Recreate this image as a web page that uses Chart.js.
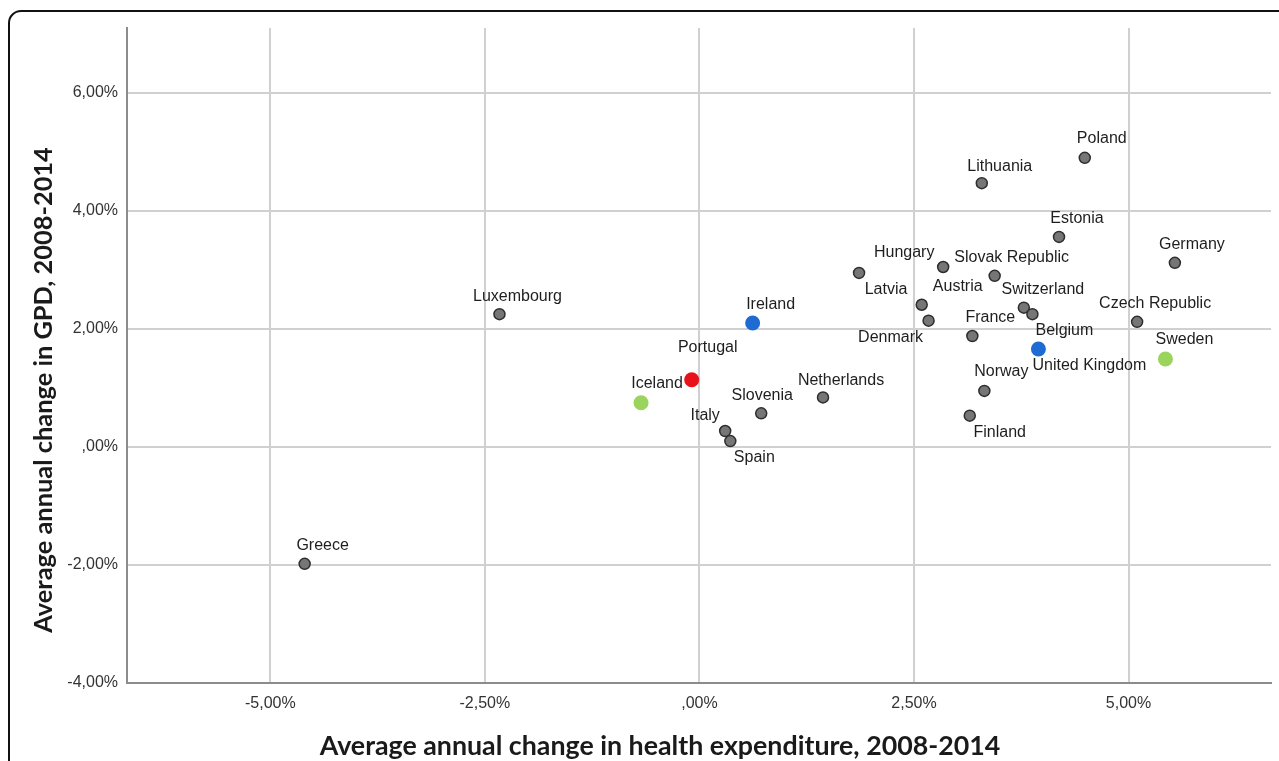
<!DOCTYPE html>
<html>
<head>
<meta charset="utf-8">
<script src="https://cdn.jsdelivr.net/npm/chart.js@4.4.1/dist/chart.umd.min.js"></script>
<style>
  html, body { margin: 0; padding: 0; background: #fff; overflow: hidden; }
  #wrap { position: relative; width: 1279px; height: 761px; overflow: hidden; }
  #frame { position: absolute; left: 8px; top: 10px; width: 1300px; height: 800px;
           border: 2px solid #111; border-radius: 13px; box-sizing: border-box; }
  canvas { position: absolute; left: 0; top: 0; }
</style>
</head>
<body>
<div id="wrap">
  <div id="frame"></div>
  <canvas id="c" width="1279" height="761"></canvas>
</div>
<script>
// ---- data ----
const countries = ['Greece','Luxembourg','Iceland','Portugal','Ireland','Italy','Spain','Slovenia',
  'Netherlands','Latvia','Hungary','Austria','Denmark','Slovak Republic','France','Switzerland',
  'Belgium','United Kingdom','Norway','Finland','Lithuania','Poland','Estonia','Germany',
  'Czech Republic','Sweden'];
const healthChange = [-4.60,-2.33,-0.68,-0.09,0.62,0.30,0.36,0.72,
  1.44,1.86,2.84,2.59,2.67,3.44,3.18,3.78,
  3.88,3.95,3.32,3.15,3.29,4.49,4.19,5.54,
  5.10,5.43];
const gdpChange = [-1.98,2.25,0.75,1.14,2.10,0.27,0.10,0.57,
  0.84,2.95,3.05,2.41,2.14,2.90,1.88,2.36,
  2.25,1.66,0.95,0.53,4.47,4.90,3.56,3.12,
  2.12,1.49];
// group: 0 = other, 1 = blue, 2 = green, 3 = red
const group = [0,0,2,3,1,0,0,0,
  0,0,0,0,0,0,0,0,
  0,1,0,0,0,0,0,0,
  0,2];
const xTickValues = [-5, -2.5, 0, 2.5, 5];
const xTickLabels = ['-5,00%', '-2,50%', ',00%', '2,50%', '5,00%'];
const yTickValues = [-4, -2, 0, 2, 4, 6];
const yTickLabels = ['-4,00%', '-2,00%', ',00%', '2,00%', '4,00%', '6,00%'];
const xTitle = 'Average annual change in health expenditure, 2008-2014';
const yTitle = 'Average annual change in GPD, 2008-2014';

// ---- layout / style (not data) ----
const labelOffsets = [[18,-18],[18,-18],[16,-19],[16,-32],[18,-18],[-20,-15],[24,17],[1,-18],
  [18,-17],[27,17],[-39,-14],[36,-18],[-38,17],[17,-18],[18,-18],[19,-18],
  [32,16],[51,17],[17,-19],[30,17],[18,-17],[17,-19],[18,-18],[17,-18],
  [18,-18],[19,-19]];
const groupStyle = [
  { fill: '#767676', border: '#2e2e2e', r: 5.5, bw: 1.5 },
  { fill: '#1f6bd4', border: '#1f6bd4', r: 7.5, bw: 0 },
  { fill: '#9ad45c', border: '#9ad45c', r: 7.5, bw: 0 },
  { fill: '#e8121a', border: '#e8121a', r: 7.5, bw: 0 }
];

const points = countries.map((c, i) => ({ x: healthChange[i], y: gdpChange[i], label: c }));

const labelPlugin = {
  id: 'pointLabels',
  afterDatasetsDraw(chart) {
    const ctx = chart.ctx;
    const meta = chart.getDatasetMeta(0);
    ctx.save();
    ctx.font = '16px "Liberation Sans", Arial, sans-serif';
    ctx.fillStyle = '#1e1e1e';
    ctx.textAlign = 'center';
    ctx.textBaseline = 'middle';
    meta.data.forEach((el, i) => {
      const off = labelOffsets[i];
      ctx.fillText(countries[i], el.x + off[0], el.y + off[1]);
    });
    ctx.restore();
  }
};

const titlePlugin = {
  id: 'axisTitles',
  afterDraw(chart) {
    const ctx = chart.ctx;
    const ca = chart.chartArea;
    ctx.save();
    ctx.fillStyle = '#1a1a1a';
    ctx.textAlign = 'center';
    ctx.textBaseline = 'middle';
    // x title
    let fs = 22;
    ctx.font = 'bold ' + fs + 'px Lato, "Open Sans", sans-serif';
    let w = ctx.measureText(xTitle).width;
    fs = fs * 681 / w;
    ctx.font = 'bold ' + fs.toFixed(2) + 'px Lato, "Open Sans", sans-serif';
    ctx.fillText(xTitle, ca.left + 533, ca.bottom + 63);
    // y title
    let fy = 22;
    ctx.font = 'bold ' + fy + 'px Lato, "Open Sans", sans-serif';
    w = ctx.measureText(yTitle).width;
    fy = fy * 486 / w;
    ctx.font = 'bold ' + fy.toFixed(2) + 'px Lato, "Open Sans", sans-serif';
    ctx.translate(44, ca.top + 362);
    ctx.rotate(-Math.PI / 2);
    ctx.fillText(yTitle, 0, 0);
    ctx.restore();
  }
};

new Chart(document.getElementById('c'), {
  type: 'scatter',
  data: {
    datasets: [{
      data: points,
      pointRadius: group.map(g => groupStyle[g].r),
      pointBackgroundColor: group.map(g => groupStyle[g].fill),
      pointBorderColor: group.map(g => groupStyle[g].border),
      pointBorderWidth: group.map(g => groupStyle[g].bw)
    }]
  },
  options: {
    responsive: false,
    animation: false,
    events: [],
    layout: { padding: { top: 28, right: 8, left: 0, bottom: 0 } },
    plugins: { legend: { display: false }, tooltip: { enabled: false }, title: { display: false } },
    scales: {
      x: {
        type: 'linear',
        min: -6.67, max: 6.66,
        afterBuildTicks: s => { s.ticks = xTickValues.map(v => ({ value: v })); },
        afterFit: s => { s.height = 78; },
        grid: { color: '#d0d0d0', lineWidth: 2, drawTicks: false },
        border: { color: '#8c8c8c', width: 2 },
        ticks: {
          padding: 11,
          color: '#333',
          font: { family: '"Liberation Sans", Arial, sans-serif', size: 16 },
          callback: (v) => { const i = xTickValues.indexOf(v); return i >= 0 ? xTickLabels[i] : ''; }
        }
      },
      y: {
        type: 'linear',
        min: -4, max: 7.1,
        afterBuildTicks: s => { s.ticks = yTickValues.map(v => ({ value: v })); },
        afterFit: s => { s.width = 127; },
        grid: { color: '#d0d0d0', lineWidth: 2, drawTicks: false },
        border: { color: '#8c8c8c', width: 2 },
        ticks: {
          padding: 9,
          color: '#333',
          font: { family: '"Liberation Sans", Arial, sans-serif', size: 16 },
          callback: (v) => { const i = yTickValues.indexOf(v); return i >= 0 ? yTickLabels[i] : ''; }
        }
      }
    }
  },
  plugins: [labelPlugin, titlePlugin]
});
</script>
</body>
</html>
